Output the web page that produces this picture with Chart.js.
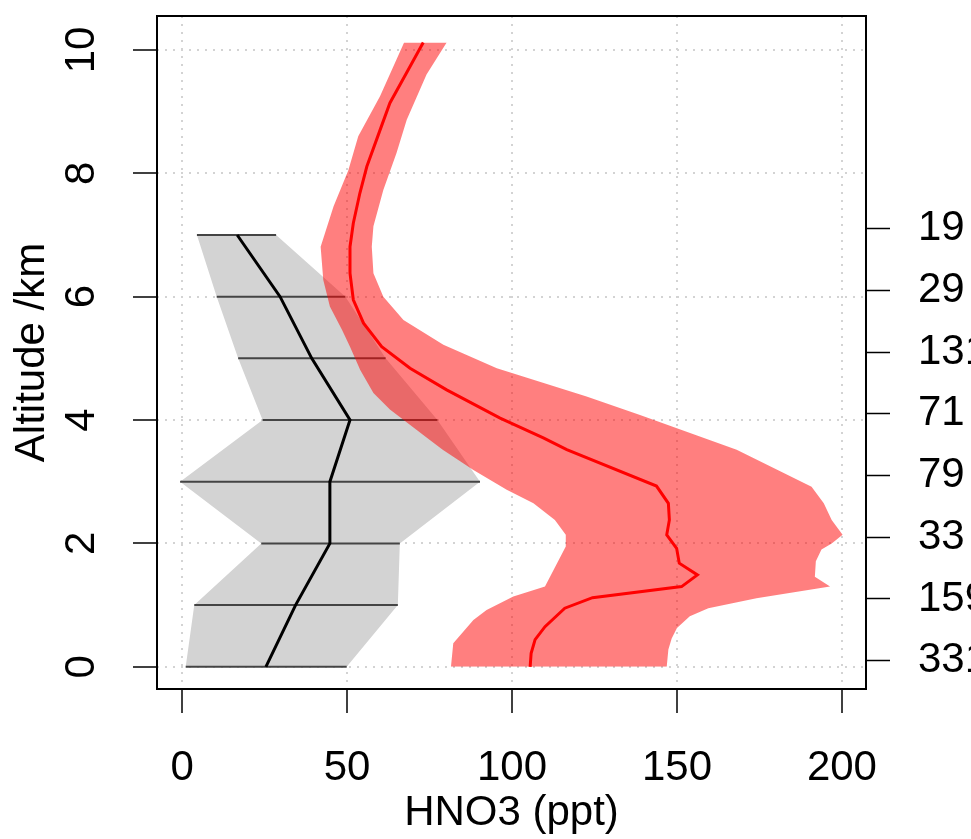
<!DOCTYPE html>
<html>
<head>
<meta charset="utf-8">
<script src="https://cdn.jsdelivr.net/npm/chart.js@4/dist/chart.umd.min.js"></script>
<style>
  html, body { margin: 0; padding: 0; background: #fff; }
</style>
</head>
<body>
<canvas id="chart" width="971" height="839"></canvas>
<script>
// axis ranges and tick labels
const xMin = -7.6, xMax = 207.3;
const yMin = -0.36, yMax = 10.55;
const xTicks = [0, 50, 100, 150, 200];
const yTicks = [0, 2, 4, 6, 8, 10];

// number of samples per level (right axis)
const countAlt = [0.1, 1.1, 2.1, 3.1, 4.1, 5.1, 6.1, 7.1];
const countLabels = ['331', '159', '33', '79', '71', '131', '29', '19'];

// grey profile (1 km bins)
const grayAlt = [0, 1, 2, 3, 4, 5, 6, 7];
const grayLow = [1.1, 3.7, 24, -0.6, 24.4, 17, 10.5, 4.5];
const grayMed = [25.4, 34.4, 44.8, 44.8, 50.9, 39.3, 29.7, 16.7];
const grayHigh = [49.9, 65.4, 66, 90.3, 77.4, 61.7, 49.5, 28.5];

// red profile: median and band edges
const redMedAlt = [0, 0.22, 0.44, 0.65, 0.95, 1.12, 1.30, 1.49, 1.68, 1.92, 2.14, 2.38, 2.65, 2.93,
  3.52, 3.71, 4.03, 4.49, 4.84, 5.19, 5.57, 5.95, 6.38, 6.81, 7.19, 7.68, 8.11, 8.70, 9.14, 9.73, 10.12];
const redMed = [105.5, 105.8, 107, 110, 116, 124.4, 151.4, 156.2, 150.7, 149.9, 146.9, 147.7, 147.4, 143.8,
  116.6, 109.5, 96.4, 80.2, 69.1, 60.5, 55, 51.9, 50.9, 50.9, 51.9, 53.9, 56, 60, 63, 69.1, 73.1];

const redLowAlt = [0, 0.38, 0.76, 0.92, 1.14, 1.30, 1.95, 2.14, 2.38, 2.65, 2.87, 3.19, 3.52, 3.68,
  4.17, 4.44, 4.81, 5.19, 5.46, 5.84, 6.27, 6.81, 7.46, 8.05, 8.6, 9.25, 10.12];
const redLow = [81.5, 82.2, 88.3, 92.3, 100.4, 110, 116.3, 116.3, 113, 106.5, 98.4, 88.3, 79, 75,
  63, 58, 54, 50.9, 48.5, 44.8, 42.8, 42, 45.9, 50.4, 53.4, 60, 67.3];

const redHighAlt = [0, 0.28, 0.46, 0.63, 0.82, 0.95, 1.11, 1.30, 1.46, 1.71, 1.9, 2.0, 2.14, 2.38, 2.65,
  2.92, 3.52, 4.08, 4.38, 4.84, 5.22, 5.62, 6.0, 6.38, 6.81, 7.14, 7.73, 8.33, 8.87, 9.6, 10.12];
const redHigh = [146.9, 147.4, 148.4, 150, 153.9, 159.5, 174.1, 196.4, 191.8, 192.1, 193.8, 196.9, 200.2, 196.9, 194.5,
  190.8, 168.1, 138.8, 122.6, 95.4, 79.2, 67.1, 61, 58, 57.5, 58, 61, 65, 68.1, 74.1, 80.2];

const font = { family: "'Liberation Sans', Arial, sans-serif", size: 42 };
const pts = (xs, ys) => xs.map((x, i) => ({ x: x, y: ys[i] }));

// dataset 0 is drawn on top, the last one at the bottom
const datasets = [
  { data: pts(redMed, redMedAlt), borderColor: '#FF0000', borderWidth: 3, fill: false },
  { data: pts(redHigh, redHighAlt), borderColor: 'rgba(0,0,0,0)', borderWidth: 0,
    backgroundColor: 'rgba(255,0,0,0.5)', fill: 2 },
  { data: pts(redLow, redLowAlt), borderColor: 'rgba(0,0,0,0)', borderWidth: 0, fill: false },
  { data: pts(grayMed, grayAlt), borderColor: '#000', borderWidth: 3, fill: false }
];
// whiskers at each grey level
grayAlt.forEach((a, i) => {
  datasets.push({ data: [{ x: grayLow[i], y: a }, { x: grayHigh[i], y: a }],
    borderColor: '#444', borderWidth: 2, fill: false });
});
datasets.push({ data: pts(grayHigh, grayAlt), borderColor: 'rgba(0,0,0,0)', borderWidth: 0,
  backgroundColor: '#D3D3D3', fill: datasets.length + 1 });
datasets.push({ data: pts(grayLow, grayAlt), borderColor: 'rgba(0,0,0,0)', borderWidth: 0, fill: false });

// black box round the plot area
const frame = {
  id: 'frame',
  afterDraw(chart) {
    const { ctx, chartArea: a } = chart;
    ctx.save();
    ctx.strokeStyle = '#000';
    ctx.lineWidth = 2;
    ctx.strokeRect(a.left, a.top, a.right - a.left, a.bottom - a.top);
    ctx.restore();
  }
};

const gridOpts = { color: '#D3D3D3', lineWidth: 2, tickColor: '#000', tickWidth: 1.5,
  tickLength: 24, tickBorderDash: [] };

// keep label overhang from pushing the plot area around
const noPad = s => { s.paddingTop = 0; s.paddingBottom = 0; s.paddingLeft = 0; s.paddingRight = 0; };

new Chart(document.getElementById('chart'), {
  type: 'line',
  data: { datasets },
  plugins: [frame],
  options: {
    indexAxis: 'y',
    responsive: false,
    animation: false,
    layout: { padding: { top: 16, left: 0, right: 0, bottom: 0 } },
    elements: { point: { radius: 0 }, line: { tension: 0 } },
    plugins: { legend: { display: false }, tooltip: { enabled: false } },
    scales: {
      x: {
        type: 'linear', position: 'bottom', min: xMin, max: xMax, z: 1,
        afterBuildTicks: s => { s.ticks = xTicks.map(v => ({ value: v })); },
        afterFit: s => { s.height = 150; noPad(s); },
        grid: gridOpts,
        border: { display: false, dash: [2, 6] },
        ticks: { color: '#000', font, padding: 30, maxRotation: 0 },
        title: { display: true, text: 'HNO3 (ppt)', color: '#000', font, padding: { top: 0, bottom: 0 } }
      },
      y: {
        type: 'linear', position: 'left', min: yMin, max: yMax, z: 1,
        afterBuildTicks: s => { s.ticks = yTicks.map(v => ({ value: v })); },
        afterFit: s => { s.width = 157; noPad(s); },
        grid: gridOpts,
        border: { display: false, dash: [2, 6] },
        ticks: { color: '#000', font, padding: 27, minRotation: 90, maxRotation: 90, crossAlign: 'center' },
        title: { display: true, text: 'Altitude /km', color: '#000', font, padding: { top: 7, bottom: 0 } }
      },
      y2: {
        type: 'linear', position: 'right', display: true, min: yMin, max: yMax,
        afterBuildTicks: s => { s.ticks = countAlt.map(v => ({ value: v })); },
        afterFit: s => { s.width = 105; noPad(s); },
        grid: { drawOnChartArea: false, tickColor: '#000', tickWidth: 1.5, tickLength: 24 },
        border: { display: false },
        ticks: { color: '#000', font, padding: 28, autoSkip: false,
          callback: (v, i) => countLabels[i] }
      }
    }
  }
});
</script>
</body>
</html>
